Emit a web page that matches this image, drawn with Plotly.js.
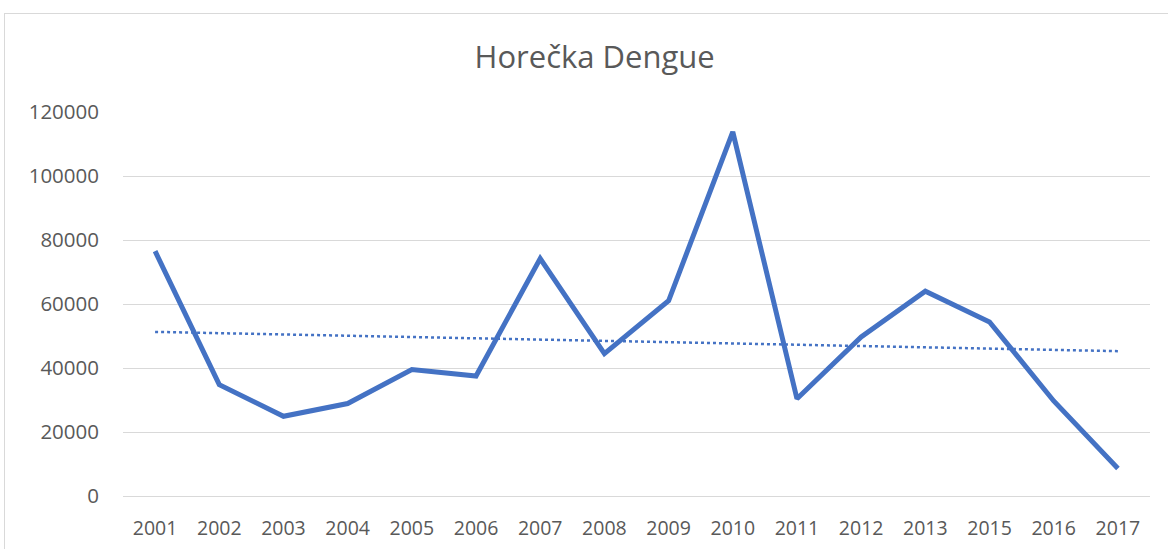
<!DOCTYPE html>
<html>
<head>
<meta charset="utf-8">
<script src="https://cdn.plot.ly/plotly-3.0.1.min.js"></script>
<style>
  html, body { margin: 0; padding: 0; background: #fff; overflow: hidden; }
  #chart { width: 1168px; height: 549px; }
  #frame { position: absolute; left: 4px; top: 13px; width: 1300px; height: 700px;
           border: 1px solid #d9d9d9; pointer-events: none; }
</style>
</head>
<body>
<div id="chart"></div>
<div id="frame"></div>
<script>
const years = ["2001","2002","2003","2004","2005","2006","2007","2008","2009","2010","2011","2012","2013","2015","2016","2017"];
const cases = [76500, 34800, 24900, 28900, 39500, 37500, 74200, 44500, 61000, 113800, 30400, 49700, 64000, 54400, 29700, 8600];
const yTicks = [0, 20000, 40000, 60000, 80000, 100000, 120000];
const chartTitle = "Horečka Dengue";

// Linear trend line (least squares on category index), as in the original chart
const n = cases.length;
const xs = cases.map((_, i) => i + 1);
const mx = xs.reduce((a, b) => a + b, 0) / n;
const my = cases.reduce((a, b) => a + b, 0) / n;
let sxy = 0, sxx = 0;
for (let i = 0; i < n; i++) { sxy += (xs[i] - mx) * (cases[i] - my); sxx += (xs[i] - mx) ** 2; }
const slope = sxy / sxx;
const trend = xs.map(x => my + slope * (x - mx));

const blue = "#4472C4";
const textColor = "#595959";
const font = "'Open Sans', sans-serif";

const data = [
  { x: years, y: cases, type: "scatter", mode: "lines",
    line: { color: blue, width: 5, shape: "linear" }, hoverinfo: "x+y" },
  { x: years, y: trend, type: "scatter", mode: "lines",
    line: { color: blue, width: 2.5, dash: "dot" }, hoverinfo: "skip" }
];

const layout = {
  width: 1168, height: 549,
  margin: { l: 123, r: 18, t: 112, b: 53 },
  paper_bgcolor: "#fff", plot_bgcolor: "#fff",
  showlegend: false,
  title: { text: chartTitle, x: 594.7 / 1168, xref: "container", xanchor: "center",
           y: 1 - 57 / 549, yref: "container", yanchor: "middle",
           font: { family: font, size: 31, color: textColor } },
  xaxis: { type: "category", range: [-0.5, years.length - 0.5], autorange: false,
           showgrid: false, zeroline: false, showline: false,
           ticks: "", ticklabelstandoff: 18,
           tickfont: { family: font, size: 19.5, color: textColor } },
  yaxis: { range: [0, 120000], tickvals: yTicks, ticktext: yTicks.map(String),
           showgrid: true, gridcolor: "#d9d9d9", gridwidth: 1,
           zeroline: true, zerolinecolor: "#d9d9d9", zerolinewidth: 1,
           showline: false, ticks: "", ticklabelstandoff: 23,
           tickfont: { family: font, size: 20.5, color: textColor } }
};

Plotly.newPlot("chart", data, layout, { displayModeBar: false, staticPlot: true });
</script>
</body>
</html>
